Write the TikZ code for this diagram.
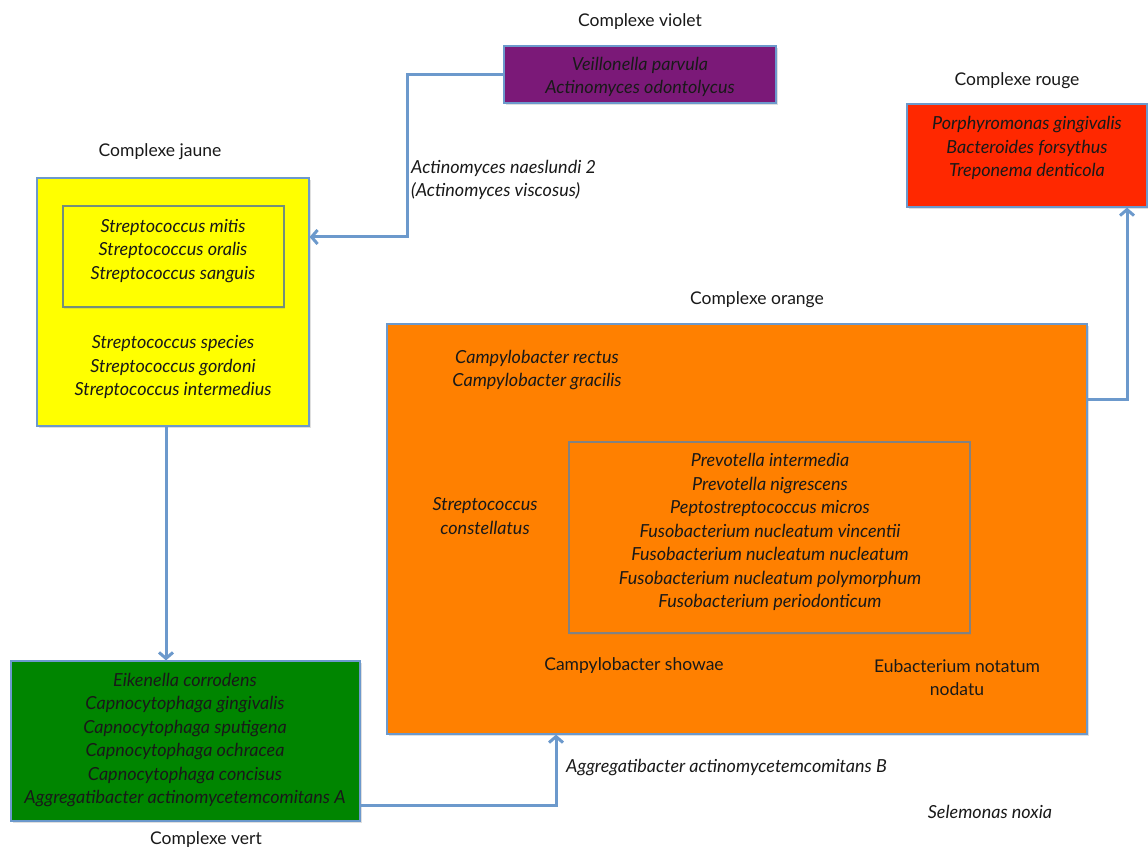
\documentclass[tikz,border=0pt]{standalone}
\usepackage{fontspec}
\setmainfont{Lato}
\usepackage{tikz}
\usetikzlibrary{arrows.meta,shadows}
\definecolor{edge_blue}{RGB}{108,153,204}
\definecolor{line_gray}{RGB}{130,130,130}
\definecolor{text_dark}{RGB}{25,25,25}
\definecolor{node_violet}{RGB}{123,25,120}
\definecolor{node_yellow}{RGB}{255,255,0}
\definecolor{node_green}{RGB}{0,133,0}
\definecolor{node_orange}{RGB}{255,128,0}
\definecolor{node_red}{RGB}{255,40,0}

\begin{document}
\begin{tikzpicture}[x=1pt,y=-1pt,->,>={Straight Barb[length=6pt,width=14pt]}]
    \tikzstyle{box}=[draw=edge_blue, line width=1.2pt, rectangle, inner sep=0pt,
        drop shadow={shadow xshift=1.5pt,shadow yshift=-2pt,opacity=0.25}]
    \tikzstyle{inbox}=[draw=line_gray, line width=1.2pt, rectangle, inner sep=0pt]
    \tikzstyle{sp}=[text=text_dark, align=center, font=\fontsize{18}{23.5}\selectfont\itshape, inner sep=0pt]
    \tikzstyle{lbl}=[text=text_dark, align=center, font=\fontsize{17.5}{23.5}\selectfont, inner sep=0pt]
    \tikzstyle{con}=[draw=edge_blue, line width=3pt]

    \useasboundingbox[fill=white] (0,0) rectangle (1148,850);

    % boxes
    \node[box, fill=node_violet, minimum width=272pt, minimum height=57pt] (violet) at (640,74.5) {};
    \node[box, fill=node_yellow, minimum width=272pt, minimum height=248pt] (yellow) at (173,302) {};
    \node[inbox, draw=edge_blue!60!olive, fill=node_yellow, drop shadow={shadow xshift=1pt,shadow yshift=-1.5pt,opacity=0.2}, minimum width=221pt, minimum height=101pt] (yin) at (173.5,256.5) {};
    \node[box, fill=node_green, minimum width=349pt, minimum height=160pt] (green) at (185.5,741) {};
    \node[box, fill=node_orange, minimum width=700pt, minimum height=410pt] (orange) at (737,529) {};
    \node[inbox, fill=node_orange, drop shadow={shadow xshift=1pt,shadow yshift=-1.5pt,opacity=0.2}, minimum width=401pt, minimum height=191pt] (oin) at (769.5,537.5) {};
    \node[box, fill=node_red, minimum width=240pt, minimum height=103pt] (red) at (1027,155.5) {};

    % titles
    \node[lbl] (tviolet) at (640,22)  {Complexe violet};
    \node[lbl] (tjaune)  at (160,152) {Complexe jaune};
    \node[lbl] (trouge)  at (1017,81) {Complexe rouge};
    \node[lbl] (torange) at (757,300) {Complexe orange};
    \node[lbl] (tvert)   at (206,840) {Complexe vert};

    % species
    \node[sp] (sviolet) at (640,77) {Veillonella parvula\\Actinomyces odontolycus};
    \node[sp] (syin) at (173,251) {Streptococcus mitis\\Streptococcus oralis\\Streptococcus sanguis};
    \node[sp] (syellow) at (173,367) {Streptococcus species\\Streptococcus gordoni\\Streptococcus intermedius};
    \node[sp] (sgreen) at (185,740) {Eikenella corrodens\\Capnocytophaga gingivalis\\Capnocytophaga sputigena\\Capnocytophaga ochracea\\Capnocytophaga concisus\\Aggregatibacter actinomycetemcomitans A};
    \node[sp] (sred) at (1027,148) {Porphyromonas gingivalis\\Bacteroides forsythus\\Treponema denticola};
    \node[sp] (scampy) at (537,370) {Campylobacter rectus\\Campylobacter gracilis};
    \node[sp] (sconst) at (485,516) {Streptococcus\\constellatus};
    \node[sp] (soin) at (770,532) {Prevotella intermedia\\Prevotella nigrescens\\Peptostreptococcus micros\\Fusobacterium nucleatum vincentii\\Fusobacterium nucleatum nucleatum\\Fusobacterium nucleatum polymorphum\\Fusobacterium periodonticum};
    \node[lbl] (sshow) at (634,666) {Campylobacter showae};
    \node[lbl] (seub) at (957,677.5) {Eubacterium notatum\\nodatu};
    \node[sp] (ssel) at (990,812) {Selemonas noxia};

    % connector labels
    \node[sp, align=left, anchor=west] (lnaes) at (411,180) {Actinomyces naeslundi 2\\(Actinomyces viscosus)};
    \node[sp, anchor=west] (laggr) at (566,768) {Aggregatibacter actinomycetemcomitans B};

    % connectors
    \coordinate (vj) at (407,237);
    \coordinate (jv) at (166,0);
    \coordinate (vo) at (556,805);
    \coordinate (or) at (1127,399);
    \draw[con] (violet.west) -| (vj) -- (yellow.east |- vj);
    \draw[con] (yellow.south -| jv) -- (green.north -| jv);
    \draw[con] (green.east |- vo) -- (vo) -- (orange.south -| vo);
    \draw[con] (orange.east |- or) -- (or) -- (red.south -| or);
\end{tikzpicture}
\end{document}
